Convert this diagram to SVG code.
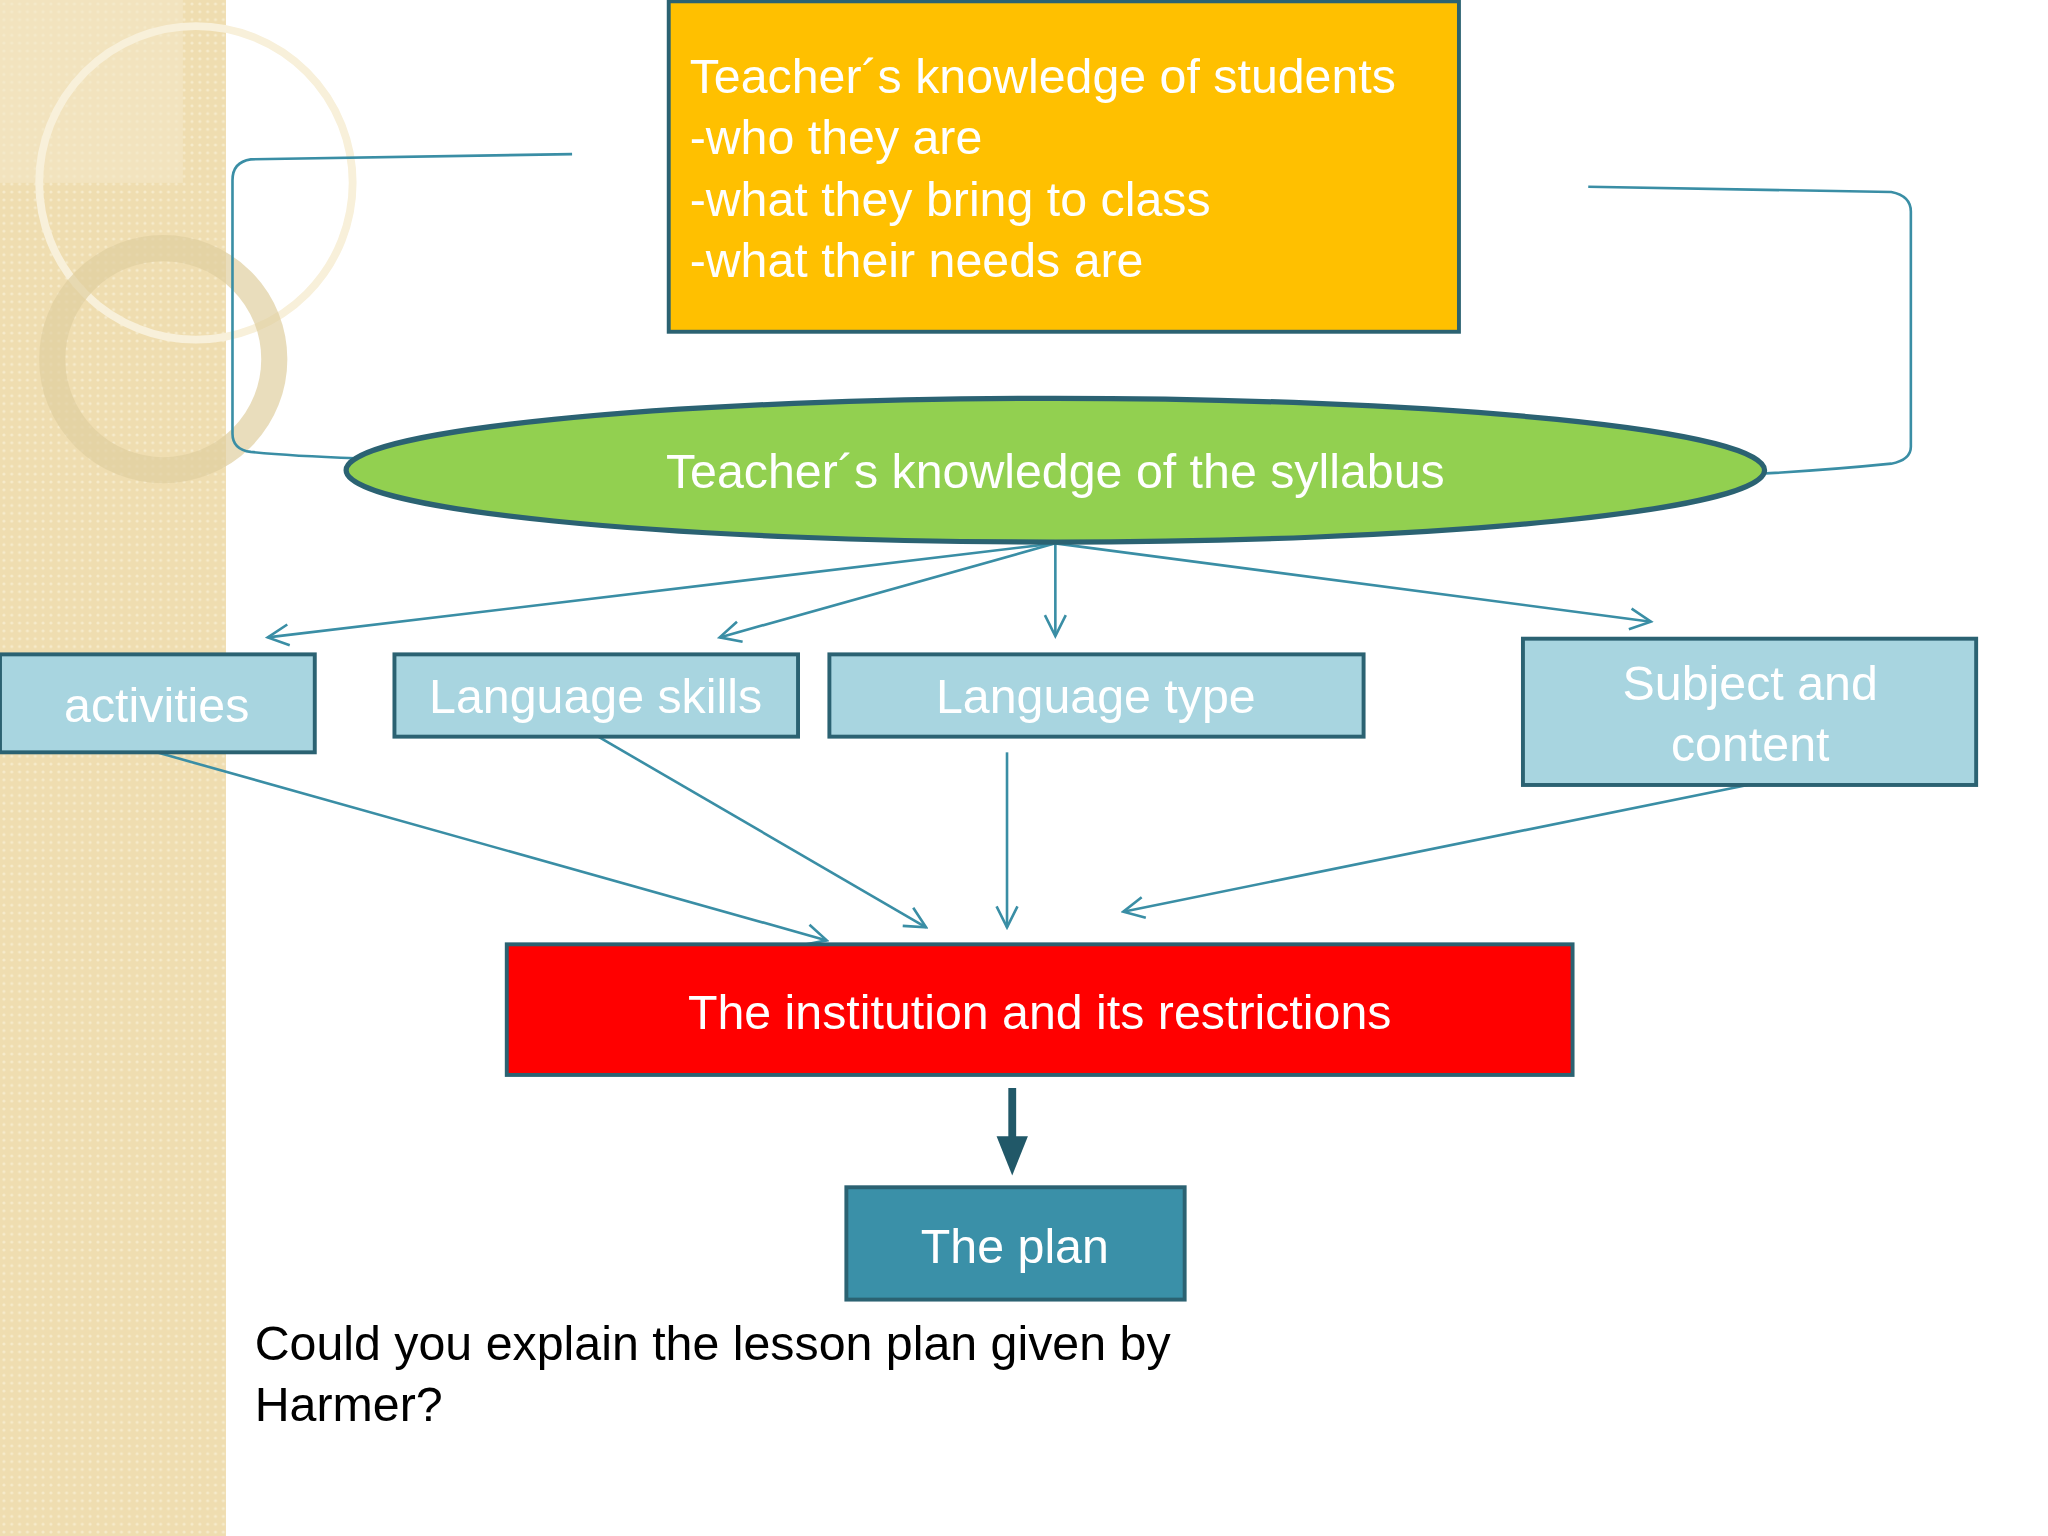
<svg xmlns="http://www.w3.org/2000/svg" width="2048" height="1536" viewBox="0 0 2048 1536">
<defs>
<style>
text{font-family:"Liberation Sans",Arial,sans-serif;font-size:37px;fill:#fff}
.box{fill:#A8D5E0;stroke:#2B6272;stroke-width:3}
.con{fill:none;stroke:#3A8EA5;stroke-width:2}
.lb{fill:#E8F4F8}
</style>
<marker id="oa" markerWidth="20" markerHeight="20" refX="18" refY="10" orient="auto" markerUnits="userSpaceOnUse"><path d="M2,2 L18,10 L2,18" fill="none" stroke="#3A8EA5" stroke-width="2"/></marker>
<marker id="fa" markerWidth="6" markerHeight="6" refX="3" refY="3" orient="auto"><path d="M0,1 L5,3 L0,5 Z" fill="#215868"/></marker>
<pattern id="pt" width="6" height="6" patternUnits="userSpaceOnUse"><rect width="6" height="6" fill="#EFDDB0"/><circle cx="3" cy="3" r="1.2" fill="#F6EBCB"/></pattern>
</defs>
<rect width="2048" height="1536" fill="#FFFFFF"/>
<g transform="scale(1.30612)">
<g id="strip">
<rect x="0" y="0" width="173" height="1176" fill="url(#pt)"/>
<rect x="0" y="0" width="140" height="140" fill="#F3E7C8" opacity="0.6"/>
<circle cx="150" cy="140" r="120" fill="none" stroke="#F8F0DA" stroke-width="6"/>
<circle cx="125" cy="275" r="85" fill="none" stroke="#E0CFA0" stroke-width="20" opacity="0.7"/>
</g>
<g id="connectors">
<path class="con" d="M438,118 L192,122 Q178,124 178,138 L178,332 Q178,344 192,346 Q260,353 438,353"/>
<path class="con" d="M1216,143 L1448,147 Q1463,150 1463,162 L1463,342 Q1463,352 1448,355 Q1340,366 1216,366"/>
<line class="con" x1="808" y1="416" x2="205" y2="488" marker-end="url(#oa)"/>
<line class="con" x1="808" y1="416" x2="551" y2="488" marker-end="url(#oa)"/>
<line class="con" x1="808" y1="416" x2="808" y2="487" marker-end="url(#oa)"/>
<line class="con" x1="808" y1="416" x2="1264" y2="476" marker-end="url(#oa)"/>
<line class="con" x1="120" y1="576" x2="633" y2="720" marker-end="url(#oa)"/>
<line class="con" x1="458" y1="564" x2="709" y2="710" marker-end="url(#oa)"/>
<line class="con" x1="771" y1="576" x2="771" y2="710" marker-end="url(#oa)"/>
<line class="con" x1="1338" y1="601" x2="860" y2="698" marker-end="url(#oa)"/>
<line x1="775" y1="833" x2="775" y2="888" stroke="#215868" stroke-width="6" marker-end="url(#fa)"/>
</g>
<g id="students">
<rect x="512" y="1" width="605" height="253" fill="#FFC000" stroke="#2B6272" stroke-width="3"/>
<text x="528" y="71">Teacher´s knowledge of students</text>
<text x="528" y="118">-who they are</text>
<text x="528" y="165">-what they bring to class</text>
<text x="528" y="212">-what their needs are</text>
</g>
<g id="syllabus">
<ellipse cx="808" cy="360" rx="543" ry="55" fill="#92D050" stroke="#2B6272" stroke-width="4"/>
<text x="808" y="374" text-anchor="middle">Teacher´s knowledge of the syllabus</text>
</g>
<g id="activities"><rect class="box" x="0" y="501" width="241" height="75"/><text x="120" y="553" text-anchor="middle">activities</text></g>
<g id="skills"><rect class="box" x="302" y="501" width="309" height="63"/><text x="456" y="546" text-anchor="middle">Language skills</text></g>
<g id="type"><rect class="box" x="635" y="501" width="409" height="63"/><text x="839" y="546" text-anchor="middle">Language type</text></g>
<g id="subject"><rect class="box" x="1166" y="489" width="347" height="112"/><text x="1340" y="536" text-anchor="middle">Subject and</text><text x="1340" y="583" text-anchor="middle">content</text></g>
<g id="institution"><rect x="388" y="723" width="816" height="100" fill="#FF0000" stroke="#2B6272" stroke-width="3"/><text x="796" y="788" text-anchor="middle">The institution and its restrictions</text></g>
<g id="plan"><rect x="648" y="909" width="259" height="86" fill="#3A90A8" stroke="#2B6272" stroke-width="3"/><text x="777" y="967" text-anchor="middle">The plan</text></g>
<g id="question">
<text x="195" y="1041" style="fill:#000">Could you explain the lesson plan given by</text>
<text x="195" y="1088" style="fill:#000">Harmer?</text>
</g>
</g>
</svg>
